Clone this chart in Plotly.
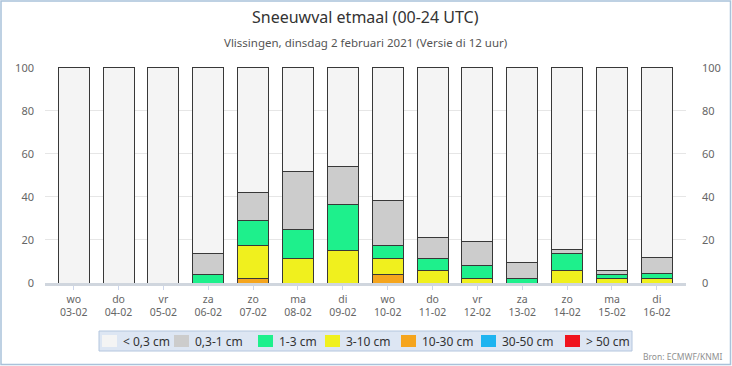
import plotly.graph_objects as go

days = ["wo", "do", "vr", "za", "zo", "ma", "di", "wo", "do", "vr", "za", "zo", "ma", "di"]
dates = ["03-02", "04-02", "05-02", "06-02", "07-02", "08-02", "09-02",
         "10-02", "11-02", "12-02", "13-02", "14-02", "15-02", "16-02"]

# percentages per class (bottom to top)
gt50   = [0, 0, 0, 0, 0, 0, 0, 0, 0, 0, 0, 0, 0, 0]
c30_50 = [0, 0, 0, 0, 0, 0, 0, 0, 0, 0, 0, 0, 0, 0]
c10_30 = [0, 0, 0, 0, 2.0, 0, 0, 3.9, 0, 0, 0, 0, 0, 0]
c3_10  = [0, 0, 0, 0, 15.6, 11.5, 15.2, 7.6, 5.9, 2.1, 0, 5.9, 2.1, 2.1]
c1_3   = [0, 0, 0, 4.0, 11.5, 13.6, 21.3, 5.9, 5.6, 5.9, 2.1, 8.0, 2.0, 2.1]
c03_1  = [0, 0, 0, 9.7, 13.0, 26.6, 17.5, 20.8, 9.8, 11.4, 7.6, 1.8, 1.8, 7.8]
lt03   = [100, 100, 100, 86.3, 57.9, 48.3, 46.0, 61.8, 78.7, 80.6, 90.3, 84.3, 94.1, 88.0]

series = [
    ("> 50 cm", gt50, "#f0141e"),
    ("30-50 cm", c30_50, "#1eb4f0"),
    ("10-30 cm", c10_30, "#f5a51e"),
    ("3-10 cm", c3_10, "#f0f01e"),
    ("1-3 cm", c1_3, "#1ef08c"),
    ("0,3-1 cm", c03_1, "#cccccc"),
    ("< 0,3 cm", lt03, "#f4f4f4"),
]

xlabels = [f"{d}<br>{dt}" for d, dt in zip(days, dates)]
xpos = list(range(len(days)))

L, R, T, B = 45, 46, 67, 83
W, H = 732, 366
pw, ph = W - L - R, H - T - B


def px(x):
    return (x - L) / pw


def py(y):
    return 1 - (y - T) / ph


fig = go.Figure()
for name, vals, col in series:
    fig.add_trace(go.Bar(
        x=xpos, y=[v if v > 0 else None for v in vals], name=name,
        marker=dict(color=col, line=dict(color="#383838", width=1)),
        hoverinfo="skip", showlegend=False,
    ))
# invisible trace for right axis
fig.add_trace(go.Scatter(x=[0], y=[0], yaxis="y2", mode="markers",
                         marker=dict(opacity=0), showlegend=False, hoverinfo="skip"))

shapes = [
    # outer frame
    dict(type="rect", xref="paper", yref="paper",
         x0=px(1), x1=px(730.5), y0=py(364.5), y1=py(1),
         line=dict(color="#a9c2da", width=1.5), layer="below"),
    # legend box
    dict(type="rect", xref="paper", yref="paper",
         x0=px(99), x1=px(632), y0=py(351), y1=py(331),
         fillcolor="#dde6f3", line=dict(color="#b4c6de", width=1), layer="below"),
]
annotations = [
    dict(text="Sneeuwval etmaal (00-24 UTC)", xref="paper", yref="paper",
         x=0.5, y=py(17), xanchor="center", yanchor="middle",
         showarrow=False, font=dict(size=16, color="#333333")),
    dict(text="Vlissingen, dinsdag 2 februari 2021 (Versie di 12 uur)",
         xref="paper", yref="paper", x=0.5, y=py(43),
         xanchor="center", yanchor="middle", showarrow=False,
         font=dict(size=11.5, color="#555555")),
    dict(text="Bron: ECMWF/KNMI", xref="paper", yref="paper",
         x=px(724), y=py(356), xanchor="right",
         yanchor="middle", showarrow=False,
         font=dict(size=8.5, color="#909090")),
]

# legend (top class first)
leg_x = [102, 174, 258, 325, 401, 481, 565]
for (name, vals, col), lx in zip(reversed(series), leg_x):
    shapes.append(dict(type="rect", xref="paper", yref="paper",
                       x0=px(lx), x1=px(lx + 15), y0=py(347), y1=py(335),
                       fillcolor=col, line=dict(width=0)))
    annotations.append(dict(text=name, xref="paper", yref="paper",
                            x=px(lx + 19), y=py(341), xanchor="left",
                            yanchor="middle", showarrow=False,
                            font=dict(size=12, color="#333333")))

fig.update_layout(
    width=W, height=H,
    margin=dict(l=L, r=R, t=T, b=B, autoexpand=False),
    paper_bgcolor="white", plot_bgcolor="white",
    barmode="stack", bargap=0.31,
    font=dict(family="Noto Sans, Open Sans, sans-serif", color="#666666", size=11),
    showlegend=False,
    xaxis=dict(
        range=[-0.64, 13.65], tickmode="array", tickvals=xpos, ticktext=xlabels,
        showgrid=False, showline=True, linecolor="#d0d6de", linewidth=3,
        ticks="outside", ticklen=4, tickcolor="#ccd6eb",
        tickfont=dict(size=10.5, color="#666666"), zeroline=False, automargin=False,
    ),
    yaxis=dict(
        range=[0, 100.4], tickvals=[0, 20, 40, 60, 80, 100],
        showgrid=True, gridcolor="#e6e6e6", zeroline=False,
        tickfont=dict(size=11, color="#666666"), ticks="", ticklabelstandoff=10,
        automargin=False,
    ),
    yaxis2=dict(
        range=[0, 100.4], tickvals=[0, 20, 40, 60, 80, 100], overlaying="y",
        side="right", showgrid=False, zeroline=False,
        tickfont=dict(size=11, color="#666666"), ticklabelstandoff=15,
        automargin=False,
    ),
    shapes=shapes,
    annotations=annotations,
)

fig.write_html("out.html", config={"displayModeBar": False},
               post_script="document.body.style.margin='0px';")
